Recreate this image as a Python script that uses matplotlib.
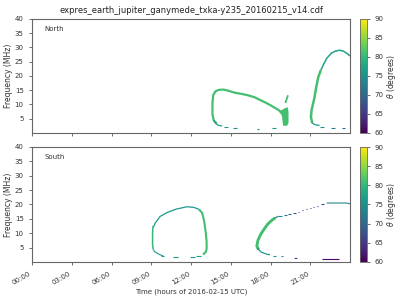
import matplotlib
matplotlib.use("Agg")
import matplotlib.pyplot as plt
import matplotlib.colors as mcolors
import matplotlib.cm as cm

_TITLE = "expres_earth_jupiter_ganymede_txka-y235_20160215_v14.cdf"
_XLABEL = "Time (hours of 2016-02-15 UTC)"
_YLABEL = "Frequency (MHz)"
_CLABEL = r"$\theta$ (degrees)"
_TEXT = "#333333"
_SPINE = "#666666"

XTICKS = [0, 3, 6, 9, 12, 15, 18, 21]
XTICKLABELS = ["00:00", "03:00", "06:00", "09:00", "12:00", "15:00", "18:00", "21:00"]
YTICKS = [5, 10, 15, 20, 25, 30, 35, 40]
CTICKS = [60, 65, 70, 75, 80, 85, 90]

# ---- North hemisphere (hours, MHz, theta in degrees) ----
# first loop, thick band
N_LOOP_T = [13.95, 13.72, 13.62, 13.62, 13.68, 13.85, 14.1, 14.45, 14.9, 15.3,
            15.8, 16.3, 16.8, 17.2, 17.6, 18.0, 18.4, 18.75]
N_LOOP_F = [3.3, 4.3, 6.5, 10.5, 13.3, 14.6, 15.1, 15.2, 14.7, 14.1,
            13.7, 13.2, 12.5, 11.6, 10.7, 9.7, 8.6, 7.6]
N_LOOP_THETA = 81
N_LOOP_LOW_T = [13.72, 13.85, 14.05, 14.35]
N_LOOP_LOW_F = [4.6, 3.4, 2.7, 2.4]
N_LOOP_LOW_THETA = 77
# blob at the end of the first loop
N_BLOB_T = [18.6, 18.85, 19.05, 19.3, 19.36, 19.36, 19.25, 18.95, 18.9, 18.85]
N_BLOB_F = [7.6, 8.0, 8.6, 9.0, 7.5, 3.5, 2.5, 2.5, 4.5, 6.2]
N_BLOB_THETA = 81
N_SPUR_T = [19.12, 19.32]
N_SPUR_F = [10.5, 13.2]
# second arc
N_ARC_RISE_T = [21.15, 21.05, 21.1, 21.3, 21.45, 21.6, 21.8]
N_ARC_RISE_F = [3.5, 5.5, 8.0, 12.0, 16.0, 19.5, 22.0]
N_ARC_RISE_THETA = 81
N_ARC_TOP_T = [21.8, 22.0, 22.25, 22.6, 22.9, 23.2, 23.5, 23.8, 24.0]
N_ARC_TOP_F = [22.0, 24.0, 26.2, 28.0, 28.7, 29.0, 28.7, 27.8, 27.0]
N_ARC_TOP_THETA = 77
N_ARC_LOW_T = [21.1, 21.35, 21.7]
N_ARC_LOW_F = [3.6, 2.9, 2.6]
N_ARC_LOW_THETA = 76
# short dashes near the bottom
N_DASH_T0 = [14.5, 15.2, 16.95, 18.1, 21.75, 22.55, 23.4]
N_DASH_T1 = [14.8, 15.45, 17.15, 18.45, 22.05, 22.85, 23.6]
N_DASH_F = [1.9, 1.7, 1.4, 1.8, 2.0, 1.8, 1.6]
N_DASH_THETA = [76, 75, 73, 76, 75, 73, 70]

# ---- South hemisphere ----
S_LOOP_TOP_T = [9.15, 9.3, 9.66, 10.2, 10.9, 11.7, 12.2, 12.6]
S_LOOP_TOP_F = [12.0, 13.5, 15.8, 17.2, 18.4, 19.2, 19.0, 18.3]
S_LOOP_TOP_THETA = 76
S_LOOP_LEFT_T = [9.13, 9.1, 9.1, 9.15]
S_LOOP_LEFT_F = [12.5, 10.0, 6.0, 4.3]
S_LOOP_LEFT_THETA = 80
S_LOOP_RIGHT_T = [12.6, 12.85, 13.0, 13.12, 13.18, 13.18, 13.1, 12.9]
S_LOOP_RIGHT_F = [18.3, 17.0, 14.0, 10.0, 7.0, 4.5, 3.3, 2.6]
S_LOOP_RIGHT_THETA = 81
S_LOOP_LOW_T = [9.15, 9.3, 9.66, 9.9]
S_LOOP_LOW_F = [4.3, 3.4, 2.5, 2.1]
S_LOOP_LOW_THETA = 76
S_RISE_T = [17.1, 16.97, 17.05, 17.25, 17.5, 17.8, 18.1, 18.35]
S_RISE_F = [4.2, 5.5, 7.5, 9.5, 11.3, 13.2, 14.5, 15.3]
S_RISE_THETA = 81
S_RISE_TOP_T = [18.3, 18.6]
S_RISE_TOP_F = [15.2, 15.9]
S_RISE_TOP_THETA = 75
S_RISE_LOW_T = [17.0, 17.3, 17.7, 17.96]
S_RISE_LOW_F = [4.8, 3.4, 2.7, 2.5]
S_RISE_LOW_THETA = 76
S_FLAT_T = [22.24, 23.75, 24.0]
S_FLAT_F = [20.5, 20.5, 20.2]
S_FLAT_THETA = 74
S_DASH_T0 = [9.75, 10.65, 11.9, 12.4, 18.2, 18.8, 19.8, 21.9,
             18.59, 19.04, 19.35, 19.72, 20.05, 20.35, 20.68, 20.98, 21.23, 21.48, 21.8]
S_DASH_T1 = [9.95, 11.05, 12.3, 12.75, 18.4, 18.97, 19.98, 23.2,
             18.84, 19.22, 19.55, 19.9, 20.18, 20.48, 20.75, 21.06, 21.3, 21.56, 22.06]
S_DASH_F = [2.0, 1.7, 1.7, 2.0, 2.1, 1.9, 1.4, 0.95,
            16.0, 16.35, 16.7, 17.15, 17.5, 18.0, 18.3, 18.7, 19.0, 19.4, 20.1]
S_DASH_THETA = [76, 76, 76, 77, 75, 74, 66, 61,
                74, 72, 70, 68, 68, 67, 67, 66, 66, 66, 67]

_CMAP = plt.get_cmap("viridis")
_NORM = mcolors.Normalize(vmin=60, vmax=90)


def _c(theta):
    return _CMAP(_NORM(theta))


def _curve(ax, t, f, theta, lw):
    ax.plot(t, f, color=_c(theta), lw=lw, solid_capstyle="butt",
            solid_joinstyle="round")


def _dashes(ax, t0, t1, f, theta):
    for a, b, y, th in zip(t0, t1, f, theta):
        ax.plot([a, b], [y, y], color=_c(th), lw=0.8, solid_capstyle="butt")


def _setup(ax, name):
    ax.set_xlim(0, 24)
    ax.set_ylim(0, 40)
    ax.set_xticks(XTICKS)
    ax.set_yticks(YTICKS)
    ax.tick_params(labelsize=5, colors=_TEXT, length=2.5, width=0.5)
    for s in ax.spines.values():
        s.set_color(_SPINE)
        s.set_linewidth(0.8)
    ax.set_ylabel(_YLABEL, fontsize=5.5, color=_TEXT, labelpad=1)
    ax.text(0.038, 0.91, name, transform=ax.transAxes, fontsize=5,
            color=_TEXT, va="center")


def _colorbar(fig, cax):
    sm = cm.ScalarMappable(norm=_NORM, cmap=_CMAP)
    cb = fig.colorbar(sm, cax=cax, ticks=CTICKS)
    cb.outline.set_edgecolor(_SPINE)
    cb.outline.set_linewidth(0.6)
    cax.tick_params(labelsize=5, colors=_TEXT, length=2, width=0.5)
    cb.set_label(_CLABEL, fontsize=5.5, color=_TEXT, labelpad=1)


def _plot_north(ax):
    _curve(ax, N_LOOP_T, N_LOOP_F, N_LOOP_THETA, 1.6)
    _curve(ax, N_LOOP_LOW_T, N_LOOP_LOW_F, N_LOOP_LOW_THETA, 0.9)
    ax.fill(N_BLOB_T, N_BLOB_F, color=_c(N_BLOB_THETA), lw=0)
    _curve(ax, N_SPUR_T, N_SPUR_F, N_BLOB_THETA, 1.3)
    _curve(ax, N_ARC_RISE_T, N_ARC_RISE_F, N_ARC_RISE_THETA, 1.8)
    _curve(ax, N_ARC_TOP_T, N_ARC_TOP_F, N_ARC_TOP_THETA, 1.1)
    _curve(ax, N_ARC_LOW_T, N_ARC_LOW_F, N_ARC_LOW_THETA, 0.9)
    _dashes(ax, N_DASH_T0, N_DASH_T1, N_DASH_F, N_DASH_THETA)


def _plot_south(ax):
    _curve(ax, S_LOOP_TOP_T, S_LOOP_TOP_F, S_LOOP_TOP_THETA, 0.9)
    _curve(ax, S_LOOP_LEFT_T, S_LOOP_LEFT_F, S_LOOP_LEFT_THETA, 1.1)
    _curve(ax, S_LOOP_RIGHT_T, S_LOOP_RIGHT_F, S_LOOP_RIGHT_THETA, 1.5)
    _curve(ax, S_LOOP_LOW_T, S_LOOP_LOW_F, S_LOOP_LOW_THETA, 0.8)
    _curve(ax, S_RISE_T, S_RISE_F, S_RISE_THETA, 2.1)
    _curve(ax, S_RISE_TOP_T, S_RISE_TOP_F, S_RISE_TOP_THETA, 0.9)
    _curve(ax, S_RISE_LOW_T, S_RISE_LOW_F, S_RISE_LOW_THETA, 0.9)
    _curve(ax, S_FLAT_T, S_FLAT_F, S_FLAT_THETA, 0.8)
    _dashes(ax, S_DASH_T0, S_DASH_T1, S_DASH_F, S_DASH_THETA)


fig = plt.figure(figsize=(4, 3), dpi=100)
ax1 = fig.add_axes([0.08, 0.557, 0.795, 0.38])
ax2 = fig.add_axes([0.08, 0.127, 0.795, 0.383])
cax1 = fig.add_axes([0.9, 0.557, 0.0175, 0.38])
cax2 = fig.add_axes([0.9, 0.127, 0.0175, 0.383])

_setup(ax1, "North")
_setup(ax2, "South")
_plot_north(ax1)
_plot_south(ax2)

ax1.set_xticklabels([])
ax1.set_title(_TITLE, fontsize=6, color="#222222", pad=4)
ax2.set_xticklabels(XTICKLABELS, rotation=30, ha="right")
ax2.set_xlabel(_XLABEL, fontsize=5, color=_TEXT, labelpad=2)

_colorbar(fig, cax1)
_colorbar(fig, cax2)

fig.savefig("out.png", dpi=100)
